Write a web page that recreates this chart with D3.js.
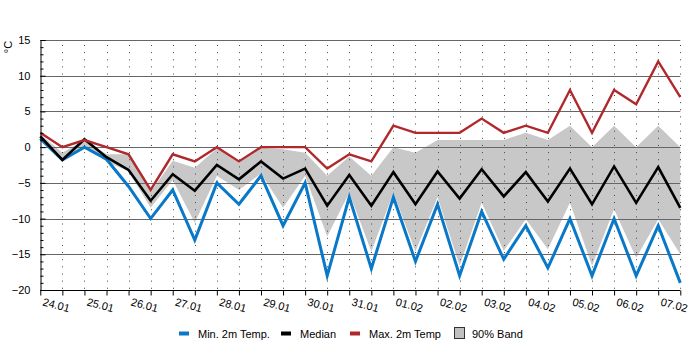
<!DOCTYPE html>
<html>
<head>
<meta charset="utf-8">
<script src="https://cdn.jsdelivr.net/npm/d3@7"></script>
<style>
  body { margin: 0; background: #fff; }
  svg { display: block; font-family: "Liberation Sans", Arial, sans-serif; }
</style>
</head>
<body>
<svg id="chart"></svg>
<script>
// two values per day, 30 points
const dayLabels = ["24.01", "25.01", "26.01", "27.01", "28.01", "29.01", "30.01", "31.01",
  "01.02", "02.02", "03.02", "04.02", "05.02", "06.02", "07.02"];
const yTicks = [15, 10, 5, 0, -5, -10, -15, -20];

const minTemp = [1.2, -1.8, 0, -1.7, -5.5, -10, -6, -13, -5, -8, -4, -11, -5, -18, -7, -17, -7, -16, -8, -18,
  -9, -15.7, -11, -16.9, -10, -18, -10, -18, -11, -19];
const medianTemp = [1.5, -1.8, 1.1, -1.4, -3.2, -7.5, -3.8, -6.1, -2.5, -4.5, -2, -4.4, -3, -8.2, -3.9, -8.2,
  -3.5, -8, -3.4, -7.2, -3.1, -6.9, -3.5, -7.6, -3, -8, -2.7, -7.8, -2.8, -8.5];
const maxTemp = [2, 0, 1, 0, -1, -6, -1, -2, 0, -2, 0, 0, 0, -3, -1, -2, 3, 2, 2, 2, 4, 2, 3, 2, 8, 2, 8, 6, 12, 7];
const bandHigh = [1.8, -0.8, 1, -1, -1, -6.3, -1.9, -2.9, -0.2, -2.2, -0.1, -0.3, -0.8, -4, -1.3, -4, 0, -0.8,
  1, 1, 1, 1, 2, 1, 3, 0, 3, 0, 3, 0];
const bandLow = [1.2, -1.7, 0.2, -2, -3.4, -8.5, -4.6, -10.6, -4, -6, -3.7, -8.5, -4, -12.5, -6.4, -14.6, -6.4,
  -14.6, -7, -16.6, -7.8, -14.5, -10.1, -14.3, -7.8, -16.6, -8.7, -15.5, -10.1, -15];

const width = 700, height = 350;
const margin = { top: 40, right: 20, bottom: 60, left: 40 };

const svg = d3.select("#chart")
  .attr("width", width)
  .attr("height", height);

const idx = d3.range(minTemp.length);

const x = d3.scaleLinear()
  .domain([0, idx.length - 1])
  .range([margin.left + 0.3, width - margin.right + 0.3]);

const y = d3.scaleLinear()
  .domain([-20, 15])
  .range([height - margin.bottom, margin.top]);

// 90% band
const band = d3.area()
  .x(i => x(i))
  .y0(i => y(bandLow[i]))
  .y1(i => y(bandHigh[i]));

svg.append("path")
  .datum(idx)
  .attr("fill", "#c8c8c8")
  .attr("d", band);

// horizontal grid
svg.append("g")
  .selectAll("line")
  .data(yTicks.filter(d => d > -20))
  .join("line")
  .attr("x1", margin.left)
  .attr("x2", x(idx.length - 1))
  .attr("y1", d => Math.round(y(d)) + 0.5)
  .attr("y2", d => Math.round(y(d)) + 0.5)
  .attr("stroke", "#666")
  .attr("stroke-width", 1);

// dotted verticals
svg.append("g")
  .selectAll("line")
  .data(idx.slice(1))
  .join("line")
  .attr("x1", i => Math.round(x(i)) + 0.5)
  .attr("x2", i => Math.round(x(i)) + 0.5)
  .attr("y1", y(15) + 5)
  .attr("y2", y(-20))
  .attr("stroke", "#444")
  .attr("stroke-width", 1)
  .attr("stroke-dasharray", "1,6.14");

// series lines
const line = vals => d3.line().x(i => x(i)).y(i => y(vals[i]))(idx);

svg.append("path").attr("d", line(minTemp))
  .attr("fill", "none").attr("stroke", "#0a78c8").attr("stroke-width", 3).attr("stroke-linejoin", "miter");
svg.append("path").attr("d", line(medianTemp))
  .attr("fill", "none").attr("stroke", "#000").attr("stroke-width", 2.6);
svg.append("path").attr("d", line(maxTemp))
  .attr("fill", "none").attr("stroke", "#b0282c").attr("stroke-width", 2.4);

// y axis, ticks pointing inward
const yAxis = d3.axisLeft(y).tickValues(yTicks).tickSize(-5).tickPadding(10);
const yAxisGroup = svg.append("g")
  .attr("transform", `translate(${margin.left + 0.5},0)`)
  .call(yAxis);
yAxisGroup.select(".domain").attr("stroke", "#000");
yAxisGroup.selectAll("text").attr("font-size", 11).attr("fill", "#000").attr("font-family", "Liberation Sans, Arial, sans-serif");

const yMinor = d3.axisLeft(y).tickValues(d3.range(-20, 16).filter(d => d % 5 !== 0)).tickSize(-3).tickFormat("");
svg.append("g")
  .attr("transform", `translate(${margin.left + 0.5},0)`)
  .call(yMinor)
  .select(".domain").remove();

// x axis
const xAxis = d3.axisBottom(x).tickValues(idx).tickSize(5).tickFormat("");
const xAxisGroup = svg.append("g")
  .attr("transform", `translate(0,${height - margin.bottom + 0.5})`)
  .call(xAxis);
xAxisGroup.select(".domain").attr("d", `M${margin.left},0H${x(idx.length - 1)}`);

svg.append("g")
  .selectAll("text")
  .data(dayLabels)
  .join("text")
  .attr("transform", (d, k) => `translate(${x(2 * k) + 16},${height - margin.bottom + 15}) rotate(15)`)
  .attr("text-anchor", "middle")
  .attr("dy", "0.35em")
  .attr("font-size", 11)
  .attr("fill", "#000")
  .text(d => d);

// unit
svg.append("text")
  .attr("transform", "translate(12,47) rotate(-90)")
  .attr("text-anchor", "middle")
  .attr("font-size", 11)
  .text("°C");

// legend
const legendItems = [
  { label: "Min. 2m Temp.", color: "#0a78c8", x: 179 },
  { label: "Median", color: "#000", x: 281 },
  { label: "Max. 2m Temp", color: "#b0282c", x: 350 }
];
const legend = svg.append("g");
legendItems.forEach(d => {
  legend.append("rect").attr("x", d.x).attr("y", 331.5).attr("width", 10).attr("height", 4).attr("fill", d.color);
  legend.append("text").attr("x", d.x + 19).attr("y", 334).attr("dy", "0.35em")
    .attr("font-size", 11).text(d.label);
});
legend.append("rect").attr("x", 454.5).attr("y", 327.5).attr("width", 10).attr("height", 11)
  .attr("fill", "#c0c0c0").attr("stroke", "#333");
legend.append("text").attr("x", 472).attr("y", 334).attr("dy", "0.35em").attr("font-size", 11).text("90% Band");
</script>
</body>
</html>
